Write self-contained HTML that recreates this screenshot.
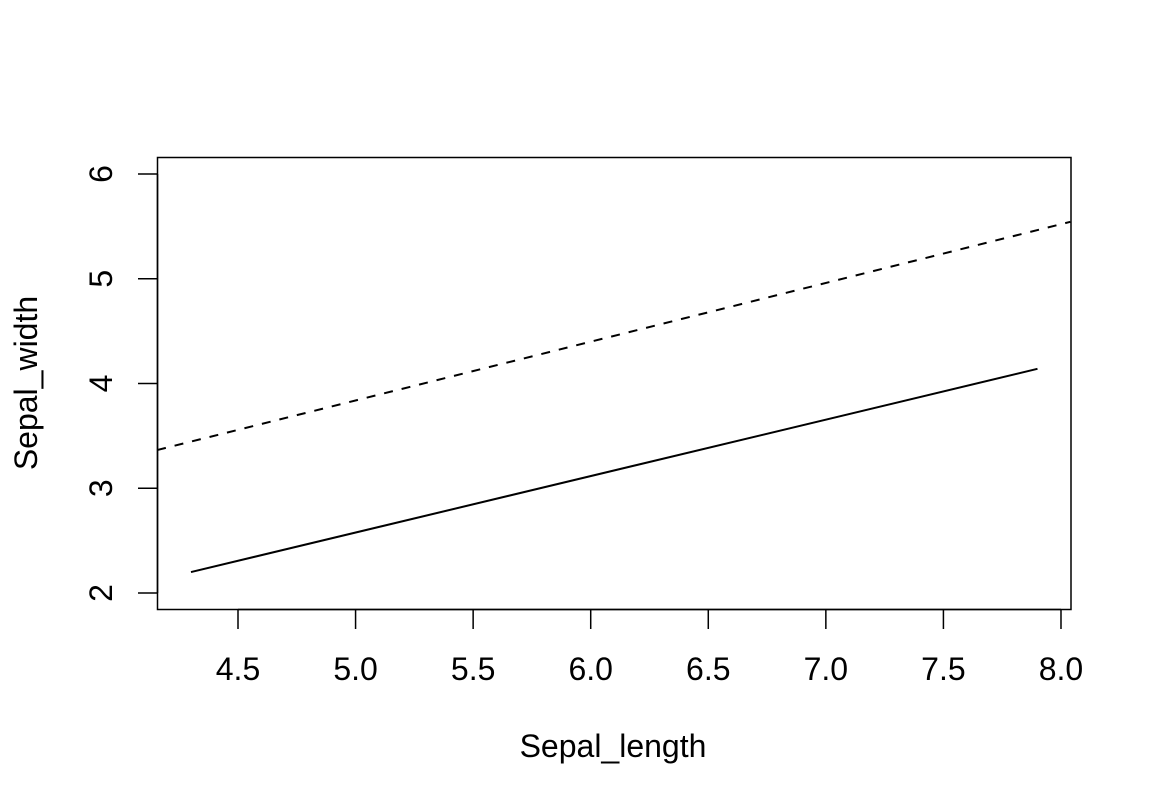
<!DOCTYPE html>
<html><head><meta charset="utf-8"><style>
body{margin:0;background:#fff;}
svg text{font-family:"Liberation Sans",sans-serif;font-size:32px;fill:#000;}
</style></head><body>
<svg id="chart" width="1152" height="806" xmlns="http://www.w3.org/2000/svg">
<rect x="157.5" y="157.5" width="913.5" height="452" fill="none" stroke="#000" stroke-width="1.5"/>
<g id="axes"></g>
<g id="series"></g>
<text x="613" y="757" text-anchor="middle">Sepal_length</text>
<text transform="translate(37,383) rotate(-90)" text-anchor="middle">Sepal_width</text>
</svg>
<script>
const xTicks = [4.5, 5.0, 5.5, 6.0, 6.5, 7.0, 7.5, 8.0];
const xTickLabels = ["4.5","5.0","5.5","6.0","6.5","7.0","7.5","8.0"];
const yTicks = [2, 3, 4, 5, 6];
const yTickLabels = ["2","3","4","5","6"];
const solidX = [4.3, 7.9];
const solidY = [2.2, 4.14];
const dashedIntercept = [1.033];
const dashedSlope = [0.561];
const xDomain = [4.156, 8.04];

const NS = "http://www.w3.org/2000/svg";
const sx = v => 238 + (v - 4.5) * 235.14;
const sy = v => 593 - (v - 2) * 104.75;
function mk(tag, attrs, parent){const e=document.createElementNS(NS,tag);for(const k in attrs)e.setAttribute(k,attrs[k]);parent.appendChild(e);return e;}
const axes=document.getElementById('axes'), series=document.getElementById('series');

mk('line',{x1:sx(xTicks[0]),x2:sx(xTicks[xTicks.length-1]),y1:609.5,y2:609.5,stroke:'#000','stroke-width':1.5},axes);
xTicks.forEach((t,i)=>{
  const l=mk('line',{x1:sx(t),x2:sx(t),y1:609.5,y2:629,stroke:'#000','stroke-width':1.5},axes);
  
  
  const tx=mk('text',{x:sx(t),y:680,'text-anchor':'middle'},axes);
  tx.textContent=xTickLabels[i];
  
  
});
mk('line',{x1:157.5,x2:157.5,y1:sy(yTicks[0]),y2:sy(yTicks[yTicks.length-1]),stroke:'#000','stroke-width':1.5},axes);
yTicks.forEach((t,i)=>{
  const l=mk('line',{x1:138,x2:157.5,y1:sy(t),y2:sy(t),stroke:'#000','stroke-width':1.5},axes);
  
  
  const tx=mk('text',{transform:`translate(112,${sy(t)}) rotate(-90)`,'text-anchor':'middle'},axes);
  tx.textContent=yTickLabels[i];
  
  
});
const s=mk('line',{x1:sx(solidX[0]),y1:sy(solidY[0]),x2:sx(solidX[1]),y2:sy(solidY[1]),stroke:'#000','stroke-width':2},series);


const d=mk('line',{x1:sx(xDomain[0]),y1:sy(dashedIntercept[0]+dashedSlope[0]*xDomain[0]),x2:sx(xDomain[1]),y2:sy(dashedIntercept[0]+dashedSlope[0]*xDomain[1]),stroke:'#000','stroke-width':2,'stroke-dasharray':'9,9'},series);


</script>
</body></html>
